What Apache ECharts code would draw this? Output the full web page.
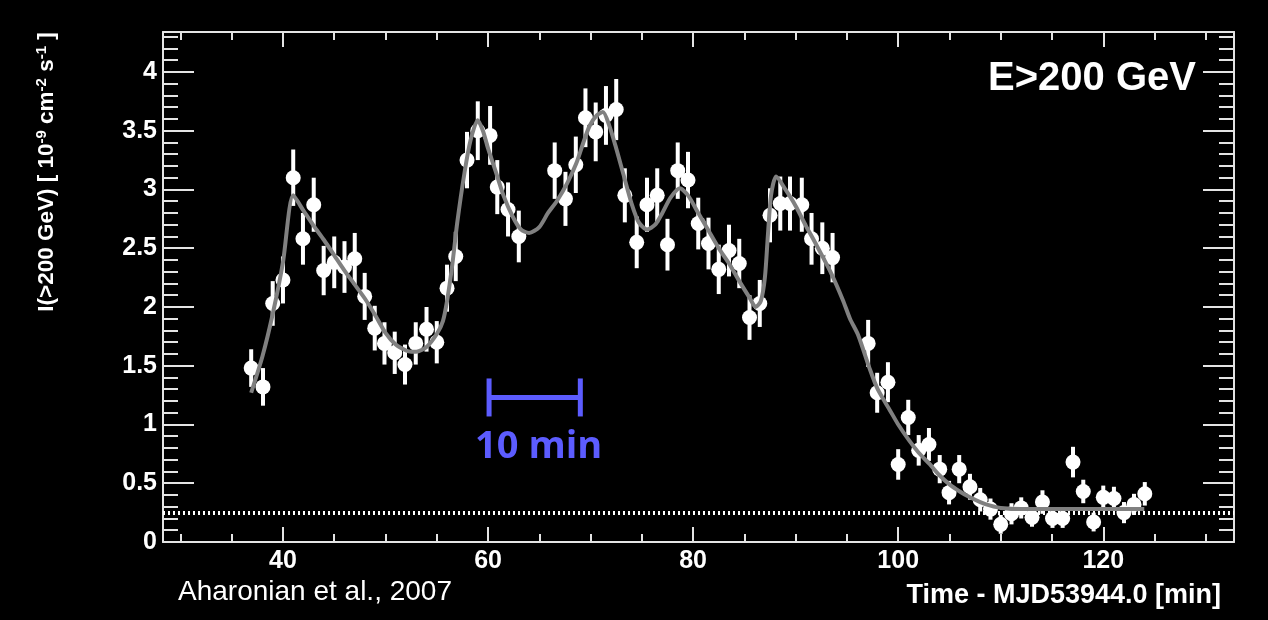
<!DOCTYPE html>
<html>
<head>
<meta charset="utf-8">
<title>PKS 2155 light curve</title>
<script src="https://cdn.jsdelivr.net/npm/echarts@6.0.0/dist/echarts.min.js"></script>
<style>
	html, body { margin: 0; padding: 0; background: #000; }
	#main { width: 1268px; height: 620px; }
</style>
</head>
<body>
<div id="main"></div>
<script>
// 测量点 (时间 min, 流量, 误差)
const timeMin = [36.9, 38.05, 39.0, 40.0, 41.0, 41.95, 43.0, 43.97, 45.0, 46.0, 47.0, 47.97, 48.95, 49.9, 50.9, 51.9, 52.95, 54.0, 55.0, 56.0, 56.85,
	57.95, 59.0, 60.2, 60.9, 61.95, 63.0, 66.5, 67.55, 68.56, 69.5, 70.5, 71.5, 72.5, 73.34, 74.5, 75.5, 76.5, 77.5, 78.5, 79.5,
	80.5, 81.5, 82.5, 83.5, 84.5, 85.5, 86.5, 87.5, 88.5, 89.45, 90.6, 91.55, 92.6, 93.6, 97.07, 97.95, 99.0, 100.0, 100.98,
	102.0, 103.0, 104.05, 104.96, 105.95, 107.0, 108.0, 109.0, 110.0, 111.05, 112.0, 113.05, 114.07, 115.05, 116.04, 117.05,
	118.05, 119.06, 120.0, 121.04, 122.02, 123.0, 124.05];
const flux = [1.48, 1.32, 2.03, 2.23, 3.10, 2.58, 2.87, 2.31, 2.38, 2.34, 2.41, 2.09, 1.82, 1.69, 1.61, 1.51, 1.69, 1.81, 1.70, 2.16, 2.43,
	3.25, 3.50, 3.46, 3.02, 2.83, 2.60, 3.16, 2.92, 3.21, 3.61, 3.49, 3.63, 3.68, 2.95, 2.55, 2.87, 2.95, 2.53, 3.16, 3.08,
	2.71, 2.54, 2.32, 2.48, 2.37, 1.91, 2.03, 2.78, 2.88, 2.88, 2.87, 2.58, 2.50, 2.42, 1.69, 1.27, 1.36, 0.66, 1.06,
	0.78, 0.83, 0.62, 0.42, 0.62, 0.47, 0.36, 0.28, 0.15, 0.24, 0.29, 0.21, 0.34, 0.20, 0.20, 0.68,
	0.43, 0.17, 0.38, 0.37, 0.25, 0.32, 0.41];
const fluxErr = [0.16, 0.16, 0.19, 0.20, 0.24, 0.22, 0.23, 0.21, 0.22, 0.22, 0.22, 0.20, 0.19, 0.18, 0.18, 0.17, 0.18, 0.19, 0.18, 0.20, 0.21,
	0.24, 0.25, 0.25, 0.23, 0.23, 0.22, 0.24, 0.23, 0.24, 0.25, 0.25, 0.25, 0.26, 0.23, 0.22, 0.23, 0.23, 0.22, 0.24, 0.24,
	0.22, 0.22, 0.21, 0.22, 0.21, 0.19, 0.20, 0.23, 0.23, 0.23, 0.23, 0.22, 0.22, 0.21, 0.20, 0.17, 0.17, 0.13, 0.15,
	0.13, 0.14, 0.12, 0.10, 0.12, 0.11, 0.10, 0.09, 0.08, 0.09, 0.09, 0.08, 0.10, 0.08, 0.08, 0.13,
	0.10, 0.08, 0.10, 0.10, 0.09, 0.09, 0.10];

// 拟合曲线
const fitTime = [36.9, 38.0, 39.0, 40.0, 41.0, 42.0, 43.0, 44.0, 45.0, 46.0, 47.0, 48.0, 49.0, 50.0, 51.0, 52.0, 52.5, 53.0, 54.0, 55.0,
	55.6, 56.0, 56.5, 57.0, 57.7, 58.3, 59.0, 59.5, 60.0, 60.8, 61.5, 62.4, 63.2, 64.0, 65.0, 65.85, 66.7, 67.7, 68.6, 69.3,
	69.9, 70.6, 71.2, 71.8, 72.5, 73.2, 74.0, 74.7, 75.5, 76.3, 77.0, 77.8, 78.7, 79.5, 80.5, 81.5, 82.5, 83.5, 84.5, 85.5,
	86.1, 86.6, 87.0, 87.3, 87.6, 88.1, 89.0, 90.0, 91.0, 91.7, 92.5, 93.5, 94.6, 95.3, 96.1, 97.2, 98.0, 99.2, 100.0, 101.1,
	102.0, 103.1, 104.0, 105.0, 106.0, 107.0, 108.0, 109.0, 110.0, 112.0, 124.0];
const fitFlux = [1.27, 1.58, 1.94, 2.38, 2.95, 2.82, 2.69, 2.57, 2.44, 2.31, 2.19, 2.07, 1.93, 1.78, 1.68, 1.63, 1.62, 1.62, 1.66, 1.77,
	1.88, 2.05, 2.35, 2.72, 3.14, 3.42, 3.59, 3.50, 3.35, 3.14, 2.95, 2.77, 2.66, 2.63, 2.68, 2.80, 2.90, 3.05, 3.22, 3.40,
	3.54, 3.63, 3.66, 3.55, 3.35, 3.13, 2.88, 2.72, 2.66, 2.70, 2.80, 2.93, 3.01, 2.95, 2.80, 2.65, 2.50, 2.37, 2.22, 2.08,
	2.00, 2.05, 2.25, 2.62, 2.95, 3.11, 3.00, 2.86, 2.69, 2.58, 2.45, 2.28, 2.06, 1.90, 1.76, 1.48, 1.30, 1.12, 1.00, 0.86,
	0.76, 0.66, 0.57, 0.49, 0.43, 0.38, 0.34, 0.31, 0.29, 0.28, 0.28];

// 背景水平线, 10 min 标尺
const baselineLevel = 0.25;
const scaleBar = [[60.1, 69.0, 1.23]];

// 坐标轴刻度
const xLabelTicks = [40, 60, 80, 100, 120];
const xMinorTicks = [30, 35, 40, 45, 50, 55, 60, 65, 70, 75, 80, 85, 90, 95, 100, 105, 110, 115, 120, 125, 130];
const yLabelTicks = [0, 0.5, 1, 1.5, 2, 2.5, 3, 3.5, 4];
const yMinorTicks = [0, 0.1, 0.2, 0.3, 0.4, 0.5, 0.6, 0.7, 0.8, 0.9, 1, 1.1, 1.2, 1.3, 1.4, 1.5, 1.6, 1.7, 1.8, 1.9, 2, 2.1, 2.2,
	2.3, 2.4, 2.5, 2.6, 2.7, 2.8, 2.9, 3, 3.1, 3.2, 3.3, 3.4, 3.5, 3.6, 3.7, 3.8, 3.9, 4, 4.1, 4.2, 4.3];

const frameColor = '#e4e4e4';
const labelFont = { color: '#fff', fontSize: 25, fontWeight: 'bold', fontFamily: 'Liberation Sans' };
const blue = '#5c5cff';

// 生成一根坐标轴 (主刻度或次刻度)
function makeXAxis(position, ticks, len, withLabel) {
	return {
		type: 'value', position: position, min: 28.3, max: 132.75,
		axisLine: { show: withLabel, onZero: false, lineStyle: { color: frameColor, width: 2 } },
		axisTick: { show: true, inside: true, length: len, customValues: ticks, lineStyle: { color: frameColor, width: 2 } },
		axisLabel: withLabel && position === 'bottom'
			? Object.assign({ show: true, margin: 7, customValues: xLabelTicks }, labelFont)
			: { show: false },
		splitLine: { show: false }
	};
}
function makeYAxis(position, ticks, len, withLabel) {
	return {
		type: 'value', position: position, min: 0, max: 4.34,
		axisLine: { show: withLabel, onZero: false, lineStyle: { color: frameColor, width: 2 } },
		axisTick: { show: true, inside: true, length: len, customValues: ticks, lineStyle: { color: frameColor, width: 2 } },
		axisLabel: withLabel && position === 'left'
			? Object.assign({ show: true, margin: 6, customValues: yLabelTicks }, labelFont)
			: { show: false },
		splitLine: { show: false }
	};
}

const myChart = echarts.init(document.getElementById('main'), null, { renderer: 'canvas' });

const option = {
	backgroundColor: '#000',
	animation: false,
	grid: { left: 163, top: 32, right: 34, bottom: 78 },
	xAxis: [
		makeXAxis('bottom', xLabelTicks, 15, true),
		makeXAxis('bottom', xMinorTicks, 8, false),
		makeXAxis('top', xLabelTicks, 15, true),
		makeXAxis('top', xMinorTicks, 8, false)
	],
	yAxis: [
		makeYAxis('left', yLabelTicks, 31, true),
		makeYAxis('left', yMinorTicks, 15, false),
		makeYAxis('right', yLabelTicks, 31, true),
		makeYAxis('right', yMinorTicks, 15, false)
	],
	graphic: [
		{ // 纵轴标题
			type: 'text', x: 47, y: 172, rotation: Math.PI / 2,
			style: {
				text: '{t|I(>200 GeV) [ 10}{s|-9}{t| cm}{s|-2}{t| s}{s|-1}{t| ]}',
				align: 'center', verticalAlign: 'middle',
				rich: {
					t: { fill: '#fff', fontSize: 22.5, fontWeight: 'bold', fontFamily: 'Liberation Sans' },
					s: { fill: '#fff', fontSize: 15, fontWeight: 'bold', fontFamily: 'Liberation Sans', verticalAlign: 'top', padding: [0, 0, 10, 0] }
				}
			}
		},
		{
			type: 'text', x: 1221, y: 596,
			style: { text: 'Time - MJD53944.0 [min]', fill: '#fff', fontSize: 27, fontWeight: 'bold', fontFamily: 'Liberation Sans', align: 'right', verticalAlign: 'middle' }
		},
		{
			type: 'text', x: 178, y: 592,
			style: { text: 'Aharonian et al., 2007', fill: '#fff', fontSize: 28, fontFamily: 'Liberation Sans', align: 'left', verticalAlign: 'middle' }
		},
		{
			type: 'text', x: 1196, y: 79,
			style: { text: 'E>200 GeV', fill: '#fff', fontSize: 40, fontWeight: 'bold', fontFamily: 'Liberation Sans', align: 'right', verticalAlign: 'middle' }
		}
	],
	series: [
		{ // 误差棒
			type: 'custom', z: 2,
			data: timeMin.map((t, i) => [t, flux[i], fluxErr[i]]),
			renderItem: (params, api) => {
				const top = api.coord([api.value(0), api.value(1) + api.value(2)]);
				const bot = api.coord([api.value(0), api.value(1) - api.value(2)]);
				return {
					type: 'line',
					shape: { x1: top[0], y1: top[1], x2: bot[0], y2: bot[1] },
					style: { stroke: '#fff', lineWidth: 4 }
				};
			}
		},
		{ // 数据点
			type: 'scatter', z: 3,
			symbol: 'circle', symbolSize: 15,
			itemStyle: { color: '#fff', opacity: 1 },
			data: timeMin.map((t, i) => [t, flux[i]]),
			markLine: {
				silent: true, symbol: 'none',
				label: { show: false },
				lineStyle: { color: '#fff', width: 4, type: [2, 3], opacity: 1 },
				data: [{ yAxis: baselineLevel }]
			}
		},
		{ // 拟合曲线
			type: 'line', z: 4,
			smooth: 0.25, showSymbol: false,
			lineStyle: { color: '#808080', width: 4 },
			data: fitTime.map((t, i) => [t, fitFlux[i]])
		},
		{ // 10 min 标尺
			type: 'custom', z: 5,
			data: scaleBar,
			renderItem: (params, api) => {
				const a = api.coord([api.value(0), api.value(2)]);
				const b = api.coord([api.value(1), api.value(2)]);
				return {
					type: 'group',
					children: [
						{ type: 'line', shape: { x1: a[0], y1: a[1], x2: b[0], y2: b[1] }, style: { stroke: blue, lineWidth: 5 } },
						{ type: 'line', shape: { x1: a[0], y1: a[1] - 19, x2: a[0], y2: a[1] + 19 }, style: { stroke: blue, lineWidth: 5 } },
						{ type: 'line', shape: { x1: b[0], y1: b[1] - 19, x2: b[0], y2: b[1] + 19 }, style: { stroke: blue, lineWidth: 5 } },
						{
							type: 'text', x: (a[0] + b[0]) / 2 + 4, y: a[1] + 50,
							style: { text: '10 min', fill: blue, fontSize: 38, fontWeight: 'bold', fontFamily: 'Open Sans', align: 'center', verticalAlign: 'middle' }
						}
					]
				};
			}
		}
	]
};
myChart.setOption(option);
</script>
</body>
</html>
